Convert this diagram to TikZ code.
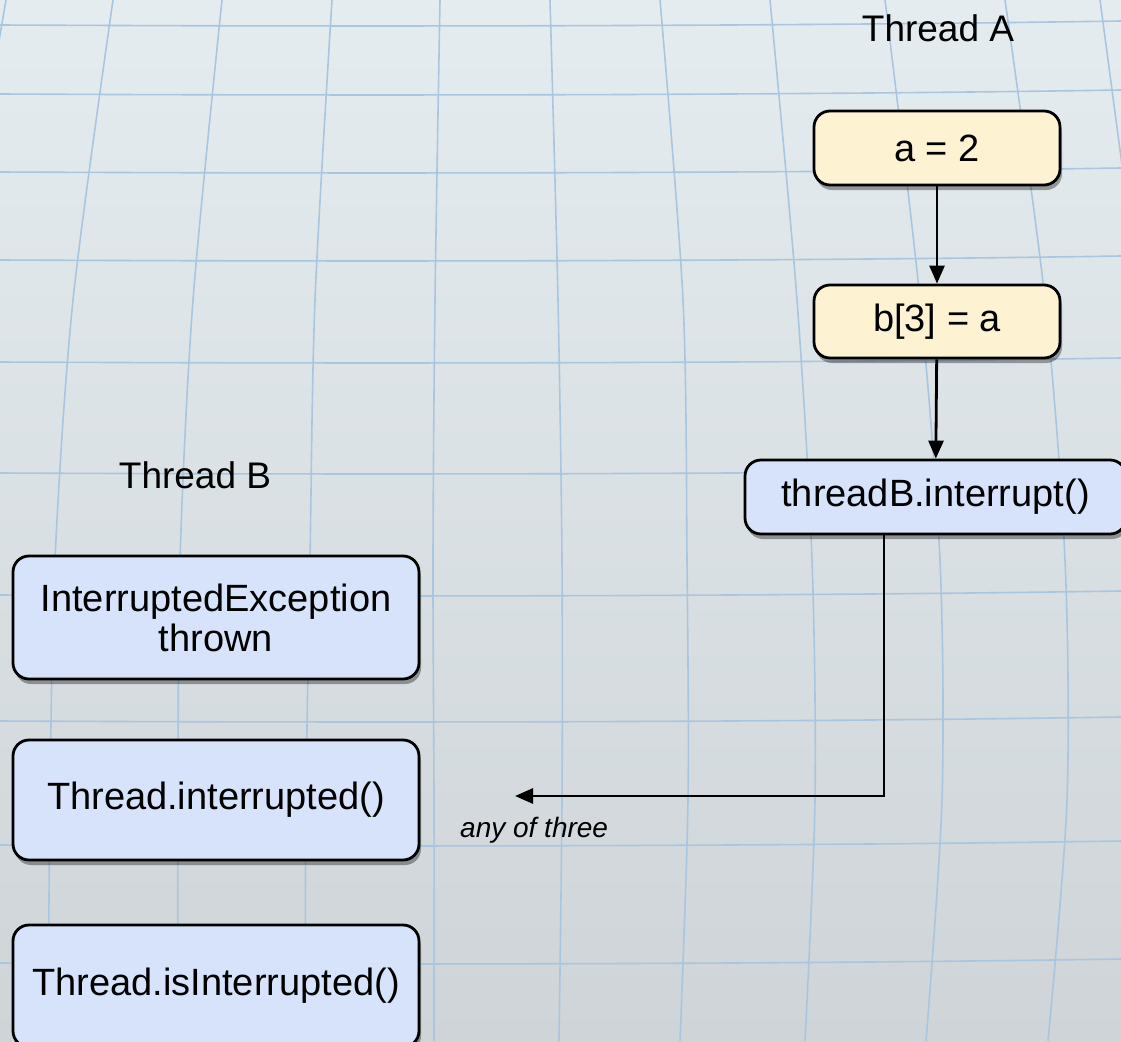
\documentclass[tikz,border=0pt]{standalone}
\usepackage{fontspec}
\setmainfont{Liberation Sans}
\usetikzlibrary{arrows.meta,shadows}
\definecolor{bgtop}{HTML}{E5ECEF}
\definecolor{bgbot}{HTML}{CED4D7}
\definecolor{gridc}{HTML}{A9C6E0}
\definecolor{yellowbox}{HTML}{FDF3D3}
\definecolor{bluebox}{HTML}{D6E3FB}
\tikzset{
  box/.style={draw=black, line width=2.8pt, rounded corners=16pt, inner sep=0pt, align=center,
    font=\fontsize{38}{40}\selectfont,
    drop shadow={shadow xshift=2pt, shadow yshift=-5pt, opacity=0.35, fill=black}},
  ybox/.style={box, fill=yellowbox},
  bbox/.style={box, fill=bluebox},
  lbl/.style={font=\fontsize{37}{40}\selectfont, inner sep=0pt},
  note/.style={font=\itshape\fontsize{28}{30}\selectfont, inner sep=0pt},
  conn/.style={line width=2.8pt, -{Triangle[length=18pt,width=15pt]}},
  gridline/.style={gridc, line width=1.6pt},
}
\begin{document}
\begin{tikzpicture}[x=1pt,y=-1pt]
\useasboundingbox (0,0) rectangle (1121,1041);
\clip (0,0) rectangle (1121,1041);
\shade[top color=bgtop, bottom color=bgbot] (0,0) rectangle (1121,1041);
% grid: vertical lines
\draw[gridline] plot[smooth] coordinates {(6,0) (-6,70)};
\draw[gridline] plot[smooth] coordinates {(113,0) (73,300) (55,560) (50,800) (48,1041)};
\draw[gridline] plot[smooth] coordinates {(222,0) (193,300) (180,560) (178,800) (178,1041)};
\draw[gridline] plot[smooth] coordinates {(332,0) (315,300) (310,560) (306,800) (305,1041)};
\draw[gridline] plot[smooth] coordinates {(440,0) (435,300) (433,560) (434,800) (434,1041)};
\draw[gridline] plot[smooth] coordinates {(550,0) (558,300) (562,560) (562,800) (559,1041)};
\draw[gridline] plot[smooth] coordinates {(660,0) (683,300) (687,560) (688,800) (680,1041)};
\draw[gridline] plot[smooth] coordinates {(770,0) (797,300) (812,560) (815,800) (805,1041)};
\draw[gridline] plot[smooth] coordinates {(885,0) (920,300) (940,560) (942,800) (926,1041)};
\draw[gridline] plot[smooth] coordinates {(1005,0) (1045,300) (1065,560) (1067,800) (1048,1041)};
\draw[gridline] plot[smooth] coordinates {(1100,0) (1140,300)};
% grid: horizontal lines
\foreach \yy in {25,94,172,260,362,473,595,721,845,963}
  \draw[gridline] (0,\yy) .. controls (400,\yy+2) and (800,\yy+1) .. (1121,\yy-4);
% nodes
\node[lbl] (tA) at (938,28) {Thread A};
\node[ybox, minimum width=246pt, minimum height=74pt] (a2) at (937,148) {a = 2};
\node[ybox, minimum width=246pt, minimum height=73pt] (b3) at (937,321.5) {b[3] = a};
\node[bbox, minimum width=381pt, minimum height=74pt] (tbi) at (935.5,497) {threadB.interrupt()};
\node[lbl] (tB) at (195,475) {Thread B};
\node[bbox, minimum width=406pt, minimum height=123pt] (ie) at (216,617.5) {InterruptedException\\thrown};
\node[bbox, minimum width=406pt, minimum height=120pt] (ti) at (216,800) {Thread.interrupted()};
\node[bbox, minimum width=406pt, minimum height=122pt] (tii) at (216,986) {Thread.isInterrupted()};
\node[note, anchor=west] (any) at (460,830) {any of three};
\coordinate (end) at (515,796);
\coordinate (cx) at (884,0);
% connectors
\draw[conn] (a2) -- (b3);
\draw[conn] (b3) -- (tbi);
\draw[conn] (tbi.south -| cx) |- (end);
\end{tikzpicture}
\end{document}
